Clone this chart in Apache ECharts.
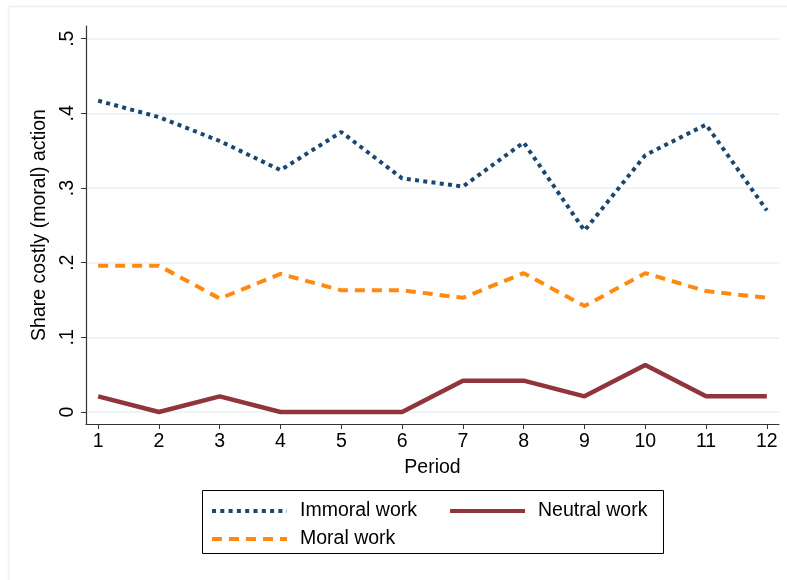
<!DOCTYPE html>
<html>
<head>
<meta charset="utf-8">
<script src="https://cdn.jsdelivr.net/npm/echarts@6/dist/echarts.min.js"></script>
<style>html,body{margin:0;padding:0;background:#fff;}#c{width:787px;height:580px;}</style>
</head>
<body>
<div id="c"></div>
<script>
var periods = [1,2,3,4,5,6,7,8,9,10,11,12];
var immoral = [0.417,0.395,0.363,0.324,0.375,0.313,0.302,0.361,0.243,0.344,0.385,0.270];
var moral   = [0.196,0.196,0.152,0.185,0.163,0.163,0.153,0.186,0.142,0.186,0.162,0.153];
var neutral = [0.021,0,0.021,0,0,0,0.042,0.042,0.021,0.063,0.021,0.021];
var yTicks = [0,0.1,0.2,0.3,0.4,0.5];
var yTickLabels = ['0','.1','.2','.3','.4','.5'];
var names = ['Immoral work','Neutral work','Moral work'];

var FONT = 'Liberation Sans, Arial, Helvetica, sans-serif';
var FS = 19.5;
function pairs(v){ return periods.map(function(p,i){return [p,v[i]];}); }

var legendCommon = {
  orient:'horizontal', itemWidth:75, itemHeight:12, padding:0,
  itemStyle:{opacity:0, borderWidth:0},
  lineStyle:{width:4, type:'inherit'},
  textStyle:{fontSize:FS, color:'#000', fontFamily:FONT, padding:[0,0,0,8]}
};

var chart = echarts.init(document.getElementById('c'), null, {renderer:'canvas'});
chart.setOption({
  backgroundColor:'#fff',
  animation:false,
  textStyle:{fontFamily:FONT},
  grid:[
    {left:86, top:26, right:8, bottom:156, containLabel:false},
    {left:86, top:38.7, right:8, bottom:168, containLabel:false}
  ],
  xAxis:[
    {type:'value', gridIndex:0, min:0.8, max:12.2,
     name:'Period', nameLocation:'middle', nameGap:34,
     nameTextStyle:{fontSize:FS, color:'#000', fontFamily:FONT},
     axisLine:{show:true, onZero:false, lineStyle:{color:'#333', width:1.2}},
     axisTick:{show:true, length:5, customValues:periods, lineStyle:{color:'#333'}},
     axisLabel:{customValues:periods, fontSize:FS, color:'#000', margin:8, fontFamily:FONT},
     splitLine:{show:false}},
    {type:'value', gridIndex:1, min:0.8, max:12.2, show:false}
  ],
  yAxis:[
    {type:'value', gridIndex:0, min:-0.016, max:0.517,
     name:'Share costly (moral) action', nameLocation:'middle', nameGap:35,
     nameTextStyle:{fontSize:FS, color:'#000', fontFamily:FONT},
     axisLine:{show:true, onZero:false, lineStyle:{color:'#333', width:1.2}},
     axisTick:{show:true, length:5, customValues:yTicks, lineStyle:{color:'#333'}},
     axisLabel:{customValues:yTicks, rotate:90, fontSize:FS, color:'#000', margin:8, fontFamily:FONT,
       formatter:function(v){ var i = yTicks.findIndex(function(t){return Math.abs(t-v)<1e-6;}); return i>=0?yTickLabels[i]:''; }},
     splitLine:{show:false}},
    {type:'value', gridIndex:1, min:0, max:0.5, interval:0.1,
     axisLine:{show:false}, axisTick:{show:false}, axisLabel:{show:false},
     splitLine:{show:true, lineStyle:{color:'#eaf2f3', width:1.5}}}
  ],
  legend:[
    Object.assign({data:[names[0],names[1]], left:210, top:501, itemGap:31}, legendCommon),
    Object.assign({data:[names[2]], left:210, top:529}, legendCommon)
  ],
  graphic:[
    {type:'line', shape:{x1:8.5,y1:6,x2:8.5,y2:580}, style:{stroke:'#eaf2f3', lineWidth:1.5}, silent:true},
    {type:'line', shape:{x1:8,y1:6.5,x2:787,y2:6.5}, style:{stroke:'#eaf2f3', lineWidth:1.5}, silent:true},
    {type:'rect', shape:{x:202.5,y:490.5,width:461,height:63}, style:{fill:'none', stroke:'#000', lineWidth:1}, silent:true}
  ],
  series:[
    {name:names[0], type:'line', xAxisIndex:0, yAxisIndex:0, data:pairs(immoral), symbol:'none',
     itemStyle:{color:'#1a476f'},
     lineStyle:{color:'#1a476f', width:4, type:[4,4.3], cap:'butt'}},
    {name:names[1], type:'line', xAxisIndex:0, yAxisIndex:0, data:pairs(neutral), symbol:'none',
     itemStyle:{color:'#90353b'},
     lineStyle:{color:'#90353b', width:4.5, type:'solid'}},
    {name:names[2], type:'line', xAxisIndex:0, yAxisIndex:0, data:pairs(moral), symbol:'none',
     itemStyle:{color:'#ff8a0f'},
     lineStyle:{color:'#ff8a0f', width:4, type:[10,7], cap:'butt'}}
  ]
});
</script>
</body>
</html>
